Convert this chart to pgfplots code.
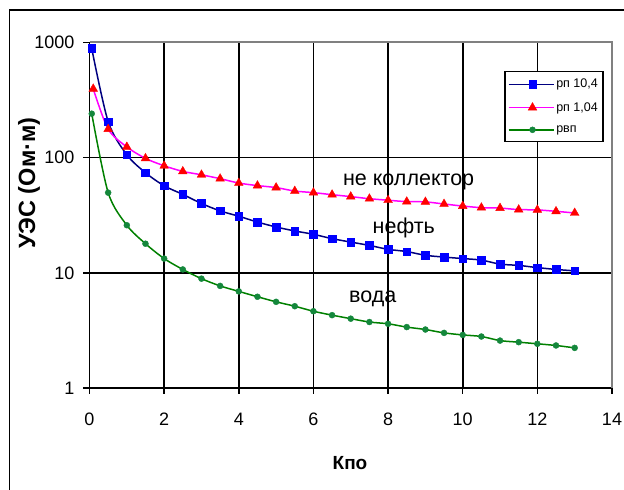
\documentclass[border=0pt]{standalone}
\usepackage{fontspec}
\setmainfont{Liberation Sans}
\usepackage{pgfplots}
\pgfplotsset{compat=1.18}
\definecolor{navyl}{RGB}{0,0,128}
\definecolor{bluem}{RGB}{0,0,255}
\definecolor{magl}{RGB}{255,0,255}
\definecolor{redm}{RGB}{255,0,0}
\definecolor{greenl}{RGB}{0,128,0}
\definecolor{greenm}{RGB}{20,135,60}
\definecolor{bordergray}{RGB}{128,128,128}
\begin{document}
\begin{tikzpicture}
\useasboundingbox (0pt,0pt) rectangle (624pt,490pt);
\draw[line width=1.5pt] (9.5pt,-20pt) -- (9.5pt,480pt) -- (650pt,480pt);
\begin{axis}[
  at={(89.5pt,102pt)}, anchor=south west,
  scale only axis, width=522.5pt, height=345.5pt,
  xmin=0, xmax=14, ymin=1, ymax=1000, ymode=log,
  axis x line*=bottom, axis y line*=left,
  axis line style={line width=1.6pt, black},
  xtick={0,2,4,6,8,10,12,14},
  xticklabels={0,2,4,6,8,10,12,14},
  ytick={1,10,100,1000},
  yticklabels={1,10,100,1000},
  yminorticks=false,
  grid=major,
  major grid style={line width=1.6pt, black},
  tick style={line width=1.5pt, black},
  tick align=outside, major tick length=6pt,
  ticklabel style={font=\fontsize{18}{20}\selectfont},
  xticklabel style={inner sep=0pt, yshift=-19pt},
  yticklabel style={inner sep=0pt, xshift=-9pt},
  legend style={at={(rel axis cs:0.7933,0.9175)}, anchor=north west, draw=black, line width=1.5pt,
    font=\fontsize{12.5}{14}\selectfont, inner xsep=3pt, inner ysep=5.5pt, row sep=9pt,
    nodes={inner xsep=2pt}, cells={anchor=west}},
  legend image code/.code={\path (-3pt,0pt) -- (42pt,0pt);
    \draw[#1, line width=1.5pt, mark=none] (0pt,0pt) -- (42pt,0pt);
    \draw[#1, only marks] plot coordinates {(21pt,0pt)};},
  legend cell align=left,
  clip=false,
]
\addplot[color=navyl, line width=1.5pt, smooth, mark=square*, mark size=3.8pt,
  mark options={solid, fill=bluem, draw=bluem, line width=0.4pt}] coordinates {
(0.06,887) (0.5,206) (1,106) (1.5,74) (2,57) (2.5,48) (3,40) (3.5,34.5) (4,31) (4.5,27.6)
(5,25) (5.5,23.1) (6,21.6) (6.5,19.8) (7,18.5) (7.5,17.3) (8,16.0) (8.5,15.3) (9,14.2)
(9.5,13.7) (10,13.3) (10.5,12.9) (11,11.9) (11.5,11.6) (12,11.1) (12.5,10.7) (13,10.4)};
\addlegendentry{рп 10,4}
\addplot[color=magl, line width=1.5pt, smooth, mark=triangle*, mark size=5pt,
  mark options={solid, fill=redm, draw=redm, line width=0.4pt}] coordinates {
(0.1,396) (0.5,177) (1,124) (1.5,98.6) (2,85) (2.5,76) (3,71) (3.5,65.7) (4,60.2) (4.5,57.2)
(5,55) (5.5,51.3) (6,49.7) (6.5,47.7) (7,45.9) (7.5,44) (8,42.7) (8.5,41.5) (9,41.3)
(9.5,39.6) (10,38) (10.5,36.8) (11,36.5) (11.5,35.4) (12,35.2) (12.5,34.2) (13,33.1)};
\addlegendentry{рп 1,04}
\addplot[color=greenl, line width=1.5pt, smooth, mark=*, mark size=3pt,
  mark options={solid, fill=greenm, draw=greenm, line width=0.4pt}] coordinates {
(0.06,241) (0.5,49.7) (1,25.9) (1.5,17.9) (2,13.3) (2.5,10.7) (3,8.9) (3.5,7.7) (4,6.9) (4.5,6.2)
(5,5.6) (5.5,5.13) (6,4.64) (6.5,4.29) (7,4.0) (7.5,3.74) (8,3.61) (8.5,3.38) (9,3.22)
(9.5,3.01) (10,2.89) (10.5,2.80) (11,2.58) (11.5,2.50) (12,2.42) (12.5,2.34) (13,2.23)};
\addlegendentry{рвп}
\draw[bordergray, line width=2pt] (rel axis cs:0,1) -- (rel axis cs:1,1) -- (rel axis cs:1,0);
\node[font=\fontsize{21.5}{24}\selectfont] at (axis cs:8.55,62) {не коллектор};
\node[font=\fontsize{21.5}{24}\selectfont] at (axis cs:8.42,24.3) {нефть};
\node[font=\fontsize{21.5}{24}\selectfont] at (axis cs:7.59,6.0) {вода};
\end{axis}
\node[rotate=90, font=\bfseries\fontsize{23.5}{26}\selectfont] at (29pt,307pt) {УЭС (Ом·м)};
\node[font=\bfseries\fontsize{19}{22}\selectfont] at (350pt,27pt) {Кпо};
\end{tikzpicture}
\end{document}
